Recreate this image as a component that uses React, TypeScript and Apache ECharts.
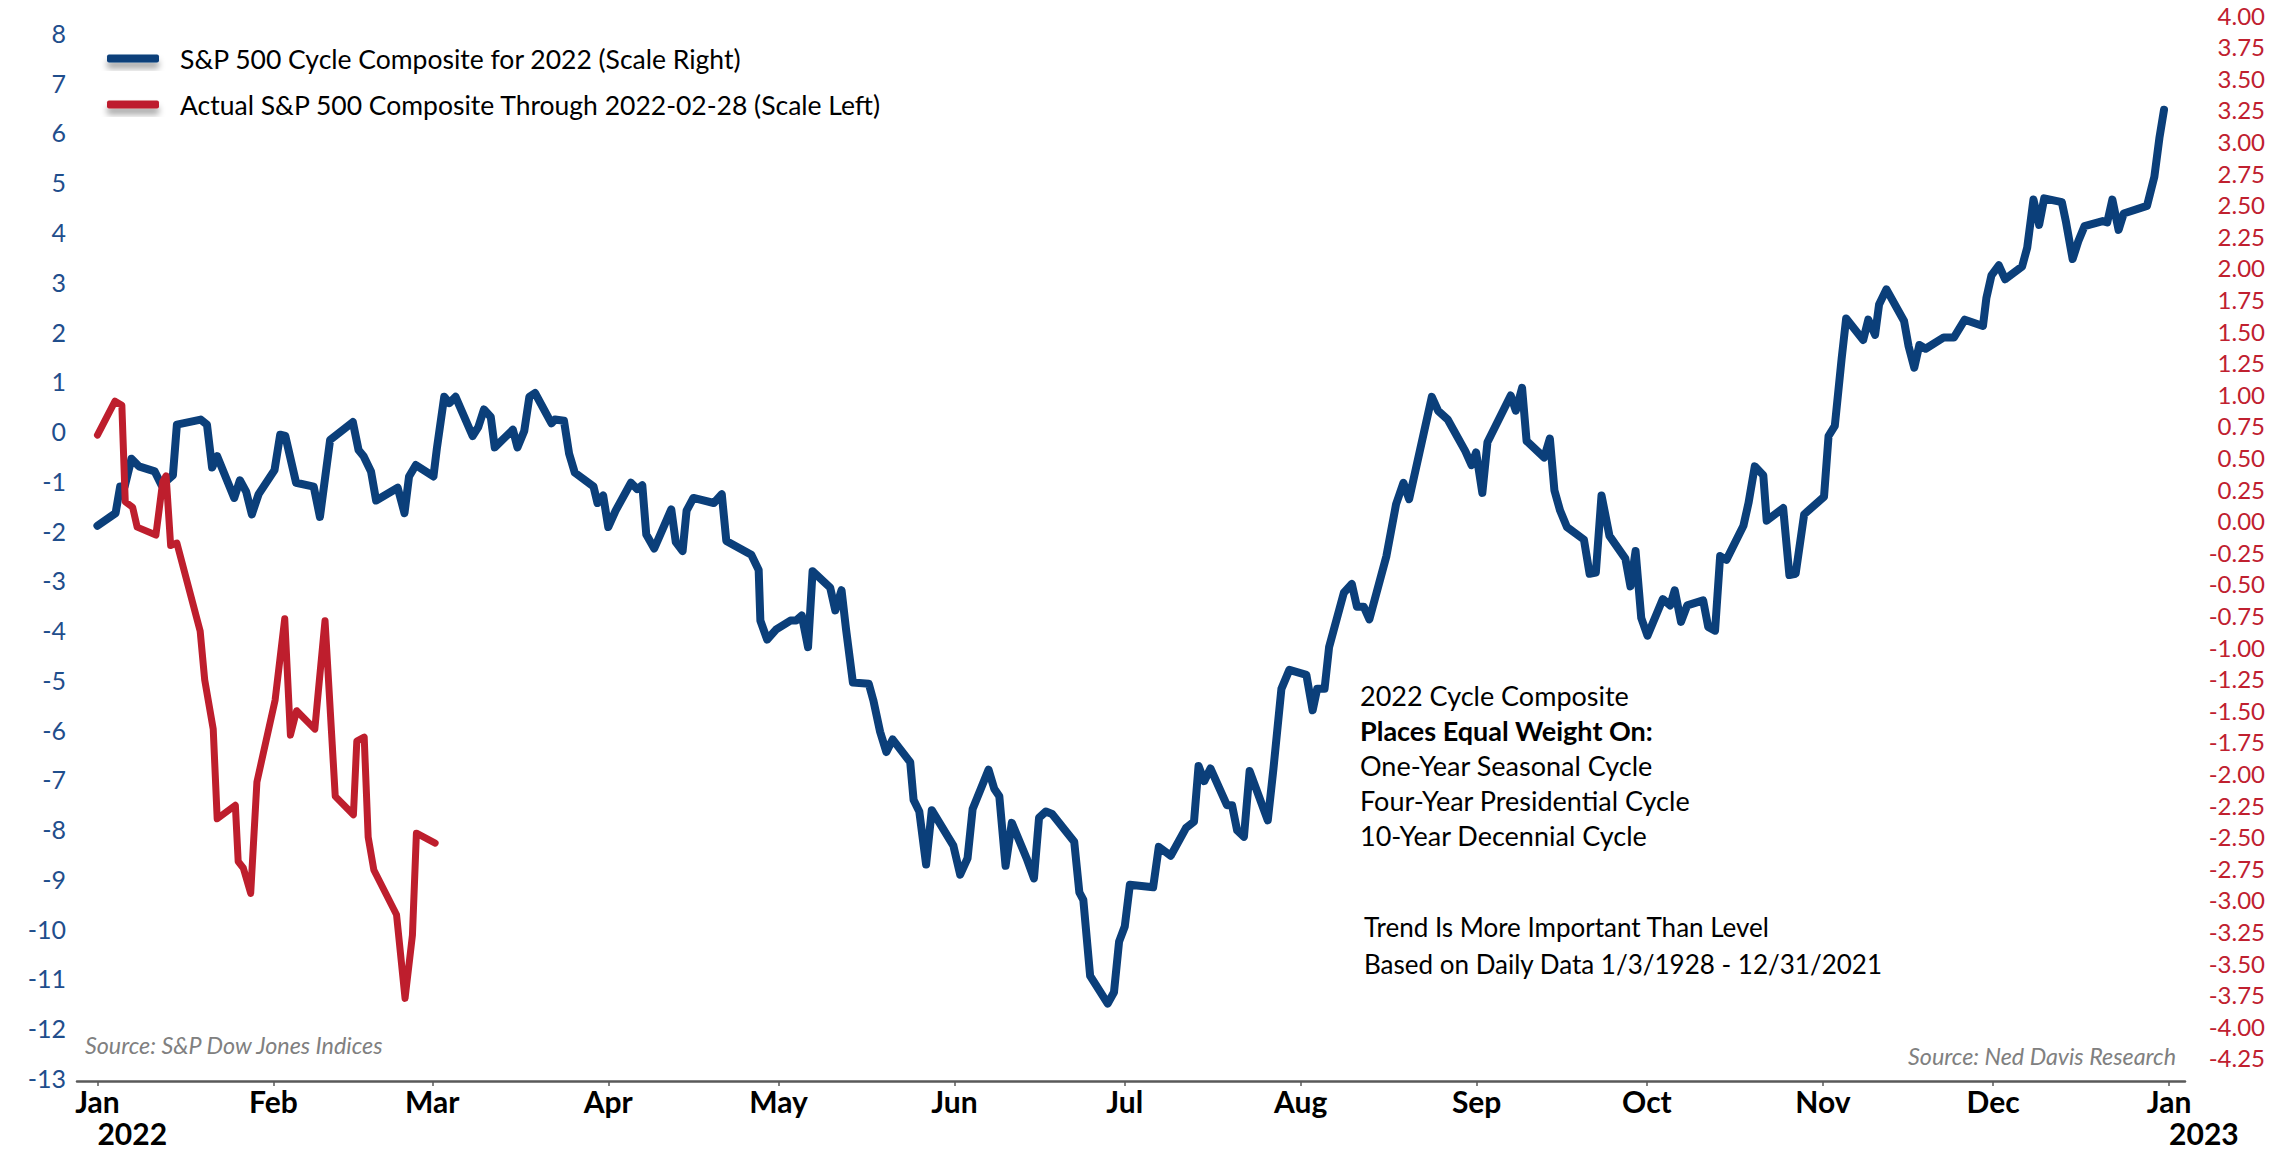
import React, { useEffect, useRef } from 'react';
import * as echarts from 'echarts';

// Day offsets from 2022-01-01 and values (right scale) for the cycle composite
const blueDays = [
  0, 3.2, 4.0, 4.8, 6.0, 7.3, 10.1, 11.3, 13.3, 14.0, 18.2, 19.3, 20.2, 21.1, 24.1, 25.1, 26.2, 27.2, 28.4,
  31.2, 32.2, 33.1, 35.0, 38.1, 39.2, 41.0, 45.0, 46.0, 46.9, 48.2, 49.1, 52.9, 54.1, 54.9, 56.1, 59.2, 59.8,
  61.1, 62.0, 63.1, 66.1, 67.1, 68.1, 69.3, 70.0, 73.2, 74.0, 75.2, 76.1, 77.1, 80.0, 80.6, 82.2, 83.1, 84.1,
  87.4, 88.1, 89.1, 90.0, 91.3, 94.0, 95.1, 96.0, 96.7, 98.1, 101.1, 101.9, 103.1, 103.8, 105.0, 108.6, 110.0,
  110.8, 115.2, 116.5, 116.8, 118.0, 119.6, 122.1, 123.1, 124.1, 125.2, 126.0, 129.1, 130.0, 131.1, 131.9,
  133.1, 135.9, 136.7, 137.9, 139.0, 140.1, 143.2, 143.8, 144.8, 146.0, 147.0, 150.8, 152.0, 153.3, 154.2,
  157.0, 158.0, 158.9, 160.0, 161.1, 163.7, 165.0, 165.9, 167.1, 168.2, 172.1, 173.0, 173.7, 174.9, 178.0,
  179.1, 180.0, 181.0, 181.9, 186.0, 187.0, 189.1, 191.8, 193.2, 194.0, 195.0, 196.1, 199.0, 199.9, 200.8,
  202.0, 203.0, 206.2, 207.2, 208.6, 210.0, 213.0, 214.1, 214.9, 216.2, 217.0, 219.6, 221.0, 221.9, 223.1,
  224.1, 227.1, 228.8, 230.1, 231.1, 235.1, 236.2, 237.9, 241.0, 242.1, 242.9, 244.0, 244.9, 249.0, 249.9,
  251.0, 251.8, 254.9, 255.9, 256.7, 257.7, 258.9, 261.9, 262.9, 264.0, 265.0, 266.4, 269.2, 270.1, 271.0,
  272.0, 273.1, 275.8, 277.1, 277.9, 279.0, 280.1, 282.9, 283.8, 285.0, 285.9, 287.0, 290.0, 290.9, 292.0,
  293.5, 294.1, 297.0, 298.1, 299.2, 300.7, 304.2, 305.0, 306.1, 307.3, 308.1, 311.1, 312.0, 313.2, 313.9,
  315.2, 318.3, 319.1, 320.1, 321.0, 322.1, 325.3, 327.1, 329.0, 332.2, 332.8, 333.7, 335.0, 336.1, 339.1,
  340.0, 341.1, 342.1, 343.0, 346.1, 346.8, 348.0, 349.0, 350.1, 353.3, 354.1, 355.0, 356.1, 357.0, 361.1,
  362.4, 363.3, 364.1,
];
const blueValues = [
  -0.04, 0.06, 0.27, 0.27, 0.49, 0.43, 0.39, 0.28, 0.36, 0.76, 0.8, 0.76, 0.42, 0.51, 0.18, 0.32, 0.23, 0.05, 0.21,
  0.4, 0.68, 0.67, 0.3, 0.27, 0.03, 0.64, 0.78, 0.56, 0.51, 0.39, 0.16, 0.26, 0.06, 0.35, 0.44, 0.35, 0.57,
  0.98, 0.93, 0.98, 0.67, 0.74, 0.88, 0.82, 0.58, 0.72, 0.58, 0.71, 0.98, 1.01, 0.77, 0.8, 0.79, 0.53, 0.38,
  0.27, 0.14, 0.2, -0.05, 0.08, 0.3, 0.25, 0.28, -0.11, -0.22, 0.09, -0.17, -0.24, 0.08, 0.18, 0.14, 0.21,
  -0.16, -0.27, -0.39, -0.79, -0.94, -0.86, -0.79, -0.79, -0.75, -1.0, -0.4, -0.53, -0.71, -0.55, -0.86,
  -1.28, -1.29, -1.42, -1.67, -1.83, -1.73, -1.91, -2.21, -2.3, -2.72, -2.29, -2.57, -2.8, -2.67, -2.28,
  -1.97, -2.12, -2.18, -2.73, -2.39, -2.67, -2.83, -2.35, -2.3, -2.32, -2.54, -2.94, -3.0, -3.6, -3.82,
  -3.73, -3.33, -3.21, -2.88, -2.9, -2.58, -2.65, -2.43, -2.38, -1.94, -2.06, -1.96, -2.25, -2.25, -2.45,
  -2.5, -1.98, -2.37, -1.96, -1.33, -1.18, -1.22, -1.5, -1.33, -1.33, -1.0, -0.57, -0.5, -0.68, -0.68,
  -0.78, -0.28, 0.13, 0.3, 0.17, 0.98, 0.87, 0.8, 0.55, 0.44, 0.54, 0.22, 0.62, 0.99, 0.87,
  1.05, 0.63, 0.5, 0.65, 0.24, 0.08, -0.05, -0.15, -0.42, -0.41, 0.2, -0.12, -0.3, -0.52, -0.24,
  -0.77, -0.91, -0.62, -0.67, -0.55, -0.8, -0.67, -0.63, -0.84, -0.87, -0.28, -0.31, -0.04, 0.14, 0.43,
  0.36, 0.0, 0.1, -0.43, -0.42, 0.05, 0.19, 0.67, 0.75, 1.28, 1.6, 1.43, 1.59, 1.47, 1.71,
  1.83, 1.58, 1.38, 1.21, 1.39, 1.36, 1.45, 1.45, 1.59, 1.54, 1.76, 1.94, 2.02, 1.91, 2.01,
  2.16, 2.54, 2.34, 2.55, 2.52, 2.37, 2.07, 2.21, 2.33, 2.37, 2.36, 2.54, 2.3, 2.43, 2.49,
  2.72, 3.03, 3.25,
];

// Actual S&P 500 (left scale)
const redDays = [
  0, 3.1, 4.3, 4.9, 6.2, 7.0, 10.3, 11.5, 12.1, 12.9, 14.0, 18.1, 18.9, 20.4, 21.1, 24.3, 24.8, 25.7, 27.0,
  28.1, 31.3, 33.0, 34.0, 35.1, 38.3, 38.9, 40.1, 41.9, 45.1, 45.7, 47.0, 47.7, 48.7, 52.7, 54.2, 55.5, 56.2, 59.5,
];
const redValues = [
  -0.08, 0.6, 0.52, -1.42, -1.53, -1.93, -2.09, -1.02, -0.9, -2.3, -2.25, -4.02, -5.0, -5.99, -7.79, -7.52, -8.65, -8.78, -9.29,
  -7.05, -5.41, -3.77, -6.11, -5.62, -5.99, -5.25, -3.81, -7.34, -7.71, -6.23, -6.15, -8.16, -8.82, -9.72, -11.4, -10.13, -8.08, -8.28,
];

const monthStarts = [0, 31, 59, 90, 120, 151, 181, 212, 243, 273, 304, 334, 365];
const monthLabels = ['Jan', 'Feb', 'Mar', 'Apr', 'May', 'Jun', 'Jul', 'Aug', 'Sep', 'Oct', 'Nov', 'Dec', 'Jan'];
const yearStarts = [0, 365];
const yearLabels = ['2022', '2023'];

const leftTicks = [-13, -12, -11, -10, -9, -8, -7, -6, -5, -4, -3, -2, -1, 0, 1, 2, 3, 4, 5, 6, 7, 8];
const rightTicks = [
  -4.25, -4.0, -3.75, -3.5, -3.25, -3.0, -2.75, -2.5, -2.25, -2.0, -1.75, -1.5, -1.25, -1.0, -0.75, -0.5, -0.25,
  0.0, 0.25, 0.5, 0.75, 1.0, 1.25, 1.5, 1.75, 2.0, 2.25, 2.5, 2.75, 3.0, 3.25, 3.5, 3.75, 4.0,
];

const seriesNames = [
  'S&P 500 Cycle Composite for 2022 (Scale Right)',
  'Actual S&P 500 Composite Through 2022-02-28 (Scale Left)',
];
const noteLines = [
  '2022 Cycle Composite',
  'Places Equal Weight On:',
  'One-Year Seasonal Cycle',
  'Four-Year Presidential Cycle',
  '10-Year Decennial Cycle',
];
const trendLines = ['Trend Is More Important Than Level', 'Based on Daily Data 1/3/1928 - 12/31/2021'];
const sourceLeft = 'Source: S&P Dow Jones Indices';
const sourceRight = 'Source: Ned Davis Research';

const FONT = "Lato, 'Open Sans', sans-serif";
const BLUE = '#0b3f7a';
const RED = '#be1e2d';

export default function App() {
  const ref = useRef<HTMLDivElement>(null);

  useEffect(() => {
    const chart = echarts.init(ref.current as HTMLDivElement, null, { renderer: 'svg' });
    const blueData = blueDays.map((d, i) => [d, blueValues[i]]);
    const redData = redDays.map((d, i) => [d, redValues[i]]);

    const graphics: any[] = [];
    noteLines.forEach((t, i) => {
      graphics.push({
        type: 'text',
        x: 1360,
        y: 695 + i * 35.1,
        style: {
          text: t,
          fill: '#000',
          fontFamily: FONT,
          fontSize: 27,
          fontWeight: i === 1 ? 'bold' : 'normal',
          verticalAlign: 'middle',
          align: 'left',
        },
      });
    });
    trendLines.forEach((t, i) => {
      graphics.push({
        type: 'text',
        x: 1364,
        y: 927 + i * 36.5,
        style: { text: t, fill: '#000', fontFamily: FONT, fontSize: 26, verticalAlign: 'middle', align: 'left' },
      });
    });
    graphics.push({
      type: 'text',
      x: 85,
      y: 1045,
      style: {
        text: sourceLeft,
        fill: '#808080',
        fontFamily: FONT,
        fontSize: 23.3,
        fontStyle: 'italic',
        verticalAlign: 'middle',
        align: 'left',
      },
    });
    graphics.push({
      type: 'text',
      x: 2176,
      y: 1056,
      style: {
        text: sourceRight,
        fill: '#808080',
        fontFamily: FONT,
        fontSize: 23.3,
        fontStyle: 'italic',
        verticalAlign: 'middle',
        align: 'right',
      },
    });

    const option: any = {
      animation: false,
      backgroundColor: '#ffffff',
      grid: {
        left: 77,
        right: 108,
        top: 15,
        bottom: 69,
        containLabel: false,
        outerBoundsMode: 'none',
      },
      legend: {
        orient: 'vertical',
        left: 102,
        top: 40,
        itemWidth: 52,
        itemHeight: 8,
        itemGap: 19,
        icon: 'roundRect',
        data: seriesNames,
        selectedMode: false,
        itemStyle: {
          shadowBlur: 6,
          shadowColor: 'rgba(0,0,0,0.35)',
          shadowOffsetY: 6,
        },
        textStyle: {
          fontFamily: FONT,
          fontSize: 26.5,
          color: '#000',
          padding: [0, 0, 0, 16],
        },
      },
      xAxis: [
        {
          type: 'value',
          min: -3.6,
          max: 367.8,
          position: 'bottom',
          axisLine: { show: true, onZero: false, lineStyle: { color: '#595959', width: 2.5 } },
          axisTick: {
            show: true,
            customValues: monthStarts,
            length: 5,
            lineStyle: { color: '#595959', width: 1.5 },
          },
          splitLine: { show: false },
          axisLabel: {
            customValues: monthStarts,
            formatter: (v: number) => {
              const idx = monthStarts.indexOf(Math.round(v));
              return idx >= 0 ? monthLabels[idx] : '';
            },
            color: '#000',
            fontFamily: FONT,
            fontWeight: 'bold',
            fontSize: 30,
            lineHeight: 30,
            margin: 5,
          },
        },
        {
          type: 'value',
          min: -3.6,
          max: 367.8,
          position: 'bottom',
          axisLine: { show: false, onZero: false },
          axisTick: { show: false },
          splitLine: { show: false },
          axisLabel: {
            customValues: yearStarts,
            formatter: (v: number) => {
              const idx = yearStarts.indexOf(Math.round(v));
              return idx >= 0 ? yearLabels[idx] : '';
            },
            align: 'left',
            color: '#000',
            fontFamily: FONT,
            fontWeight: 'bold',
            fontSize: 30,
            lineHeight: 30,
            margin: 37,
          },
        },
      ],
      yAxis: [
        {
          type: 'value',
          position: 'left',
          min: -13.06,
          max: 8.36,
          axisLine: { show: false },
          axisTick: { show: false },
          splitLine: { show: false },
          axisLabel: {
            customValues: leftTicks,
            formatter: (v: number) => String(Math.round(v)),
            color: '#1f4e8c',
            fontFamily: FONT,
            fontSize: 25,
            margin: 11,
          },
        },
        {
          type: 'value',
          position: 'right',
          min: -4.432,
          max: 4.0,
          axisLine: { show: false },
          axisTick: { show: false },
          splitLine: { show: false },
          axisLabel: {
            customValues: rightTicks,
            formatter: (v: number) => v.toFixed(2),
            align: 'right',
            color: '#c0202f',
            fontFamily: FONT,
            fontSize: 24,
            margin: 80,
          },
        },
      ],
      series: [
        {
          name: seriesNames[0],
          type: 'line',
          xAxisIndex: 0,
          yAxisIndex: 1,
          data: blueData,
          showSymbol: false,
          symbol: 'none',
          color: BLUE,
          lineStyle: { color: BLUE, width: 8, join: 'round', cap: 'round' },
          z: 2,
        },
        {
          name: seriesNames[1],
          type: 'line',
          xAxisIndex: 0,
          yAxisIndex: 0,
          data: redData,
          showSymbol: false,
          symbol: 'none',
          color: RED,
          lineStyle: { color: RED, width: 7, join: 'round', cap: 'round' },
          z: 3,
        },
      ],
      graphic: graphics,
    };

    chart.setOption(option);
    return () => {
      chart.dispose();
    };
  }, []);

  return (
    <div
      ref={ref}
      style={{ position: 'absolute', left: 0, top: 0, width: 2293, height: 1150, background: '#ffffff' }}
    />
  );
}
